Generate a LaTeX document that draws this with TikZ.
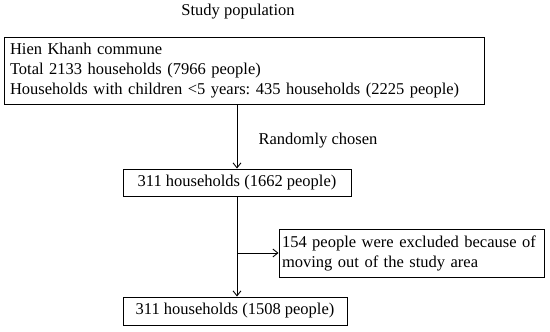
\documentclass[tikz,border=0pt]{standalone}
\usepackage{fontspec}
\setmainfont{Liberation Serif}
\usetikzlibrary{arrows.meta}
\frenchspacing
\begin{document}
\begin{tikzpicture}[x=1pt,y=1pt,
  box/.style={draw=black, line width=0.9pt, inner sep=0pt},
  lbl/.style={inner sep=0pt},
  arr/.style={line width=0.9pt, -{Straight Barb[length=5pt,width=8pt]}},
  ln/.style={line width=0.9pt},
  every node/.style={font=\fontsize{16.5}{20}\selectfont}]
\useasboundingbox (0,0) rectangle (550,332);
\node[lbl] (title) at (238,320) {Study population};
\node[box, minimum width=480, minimum height=67, text width=468, align=left] (b1) at (244,261.5)
  {Hien Khanh commune\\Total 2133 households (7966 people)\\Households with children <5 years: 435 households (2225 people)};
\node[box, minimum width=228, minimum height=27] (b2) at (237,149.5) {311 households (1662 people)};
\node[box, minimum width=265, minimum height=48, text width=259, align=left] (b3) at (411.5,79) {154 people were excluded because of\\moving out of the study area};
\node[box, minimum width=224, minimum height=28] (b4) at (235,21) {311 households (1508 people)};
\node[lbl] (rc) at (318,191) {Randomly chosen};
\coordinate (j) at (237,79);
\draw[arr] (b1.south -| b2.north) -- (b2.north);
\draw[ln] (b2.south) -- (j);
\draw[arr] (j) -- (b4.north -| j);
\draw[arr] (j) -- (b3.west);
\end{tikzpicture}
\end{document}
